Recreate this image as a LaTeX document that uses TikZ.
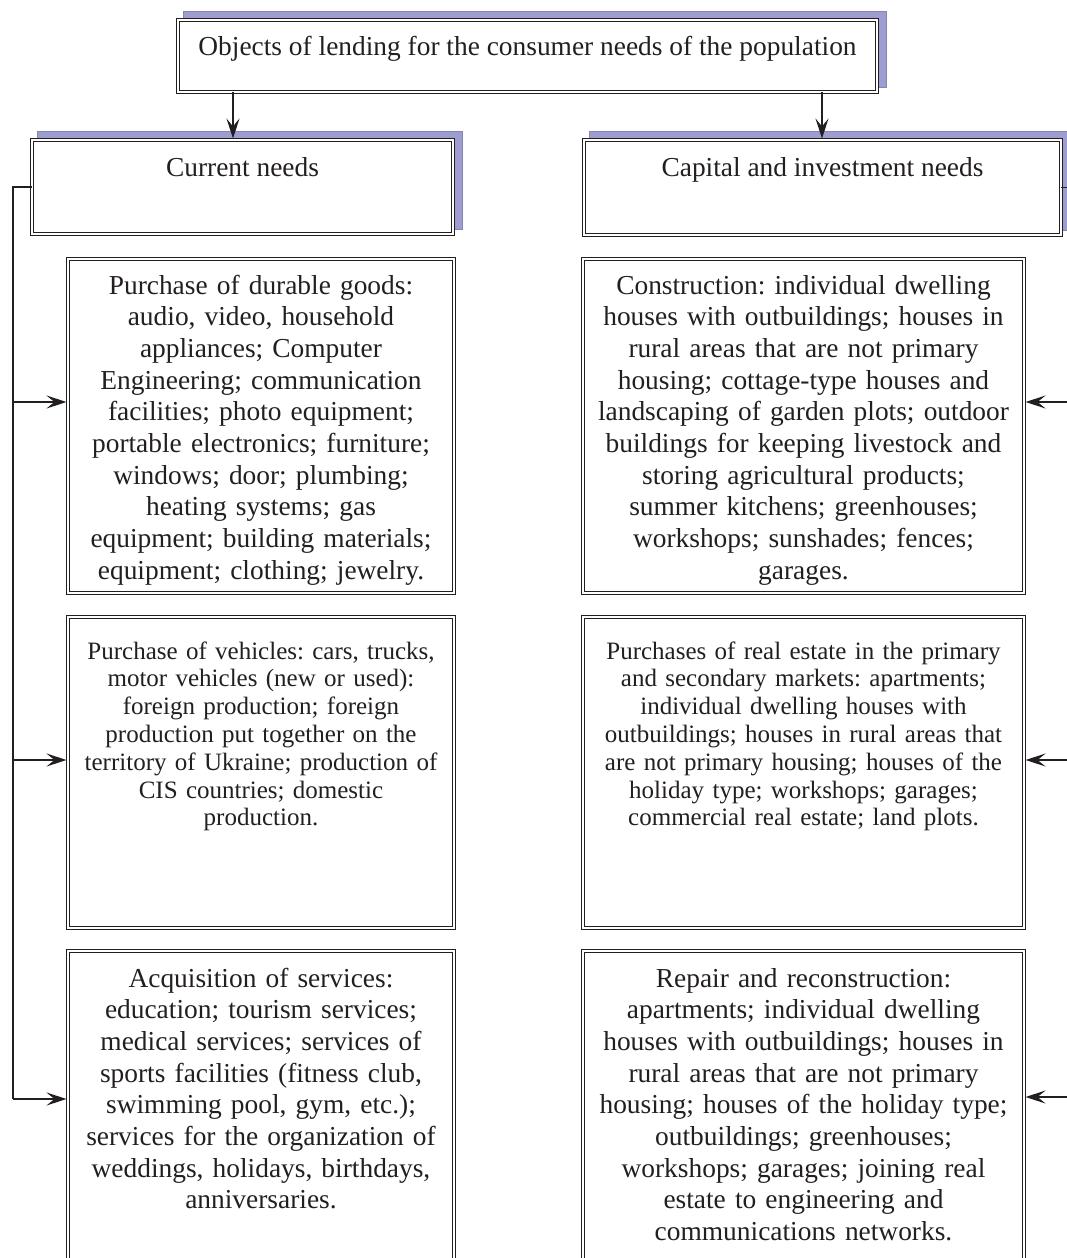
\documentclass[tikz,border=0pt]{standalone}
\usepackage{fontspec}
\setmainfont{Liberation Serif}
\frenchspacing
\usetikzlibrary{arrows.meta,calc}
\definecolor{shadowblue}{RGB}{157,157,207}
\definecolor{ink}{RGB}{35,31,32}
\tikzset{
  dbox/.style={draw=ink, fill=white, double=white, line width=1.2pt, double distance=1.8pt,
    inner sep=0pt, outer sep=0pt, rectangle},
  shadowbox/.style={fill=shadowblue, draw=shadowblue!85!black, line width=0.6pt},
  txtline/.style={font=\fontsize{27.4}{31.7}\selectfont, text=ink, inner sep=0pt, anchor=base},
  txtbig/.style={font=\fontsize{27.4}{31.7}\selectfont, text=ink, align=center,
    inner sep=0pt, text width=470pt, anchor=base},
  txtsmall/.style={font=\fontsize{25}{27.8}\selectfont, text=ink, align=center,
    inner sep=0pt, text width=470pt, anchor=base},
  conn/.style={draw=ink, line width=1.8pt},
  arr/.style={conn, -{Stealth[length=20pt,width=13pt,inset=8pt]}, shorten >=1.5pt},
}
\begin{document}
\begin{tikzpicture}[x=1pt,y=-1pt]
\path[use as bounding box] (0,0) rectangle (1067,1258);
\clip (0,0) rectangle (1067,1258);

% shadows
\path[shadowbox] (183,11) rectangle (886,87);
\path[shadowbox] (37,131) rectangle (462,229);
\path[shadowbox] (589,131) rectangle (1074,230);

% boxes
\node[dbox, minimum width=699pt, minimum height=72pt] (top) at (527.5,56) {};
\node[dbox, minimum width=421pt, minimum height=94pt] (cur) at (242.5,187) {};
\node[dbox, minimum width=477pt, minimum height=95pt] (cap) at (822.5,187.5) {};

\node[dbox, minimum width=386pt, minimum height=334pt] (lb1) at (261,426) {};
\node[dbox, minimum width=386pt, minimum height=311pt] (lb2) at (261,772.5) {};
\node[dbox, minimum width=386pt, minimum height=369pt] (lb3) at (261,1135.5) {};
\node[dbox, minimum width=441pt, minimum height=334pt] (rb1) at (803.5,426) {};
\node[dbox, minimum width=441pt, minimum height=311pt] (rb2) at (803.5,772.5) {};
\node[dbox, minimum width=441pt, minimum height=369pt] (rb3) at (803.5,1135.5) {};

% texts
\node[txtline] (ttop) at (527.5,55) {Objects of lending for the consumer needs of the population};
\node[txtline] (tcur) at (242.5,176) {Current needs};
\node[txtline] (tcap) at (822.5,176) {Capital and investment needs};

\node[txtbig] (tl1) at (261,294) {Purchase of durable goods:\\
audio, video, household\\
appliances; Computer\\
Engineering; communication\\
facilities; photo equipment;\\
portable electronics; furniture;\\
windows; door; plumbing;\\
heating systems; gas\\
equipment; building materials;\\
equipment; clothing; jewelry.};

\node[txtsmall] (tl2) at (261,659) {Purchase of vehicles: cars, trucks,\\
motor vehicles (new or used):\\
foreign production; foreign\\
production put together on the\\
territory of Ukraine; production of\\
CIS countries; domestic\\
production.};

\node[txtbig] (tl3) at (261,987) {Acquisition of services:\\
education; tourism services;\\
medical services; services of\\
sports facilities (fitness club,\\
swimming pool, gym, etc.);\\
services for the organization of\\
weddings, holidays, birthdays,\\
anniversaries.};

\node[txtbig] (tr1) at (803.5,294) {Construction: individual dwelling\\
houses with outbuildings; houses in\\
rural areas that are not primary\\
housing; cottage-type houses and\\
landscaping of garden plots; outdoor\\
buildings for keeping livestock and\\
storing agricultural products;\\
summer kitchens; greenhouses;\\
workshops; sunshades; fences;\\
garages.};

\node[txtsmall] (tr2) at (803.5,659) {Purchases of real estate in the primary\\
and secondary markets: apartments;\\
individual dwelling houses with\\
outbuildings; houses in rural areas that\\
are not primary housing; houses of the\\
holiday type; workshops; garages;\\
commercial real estate; land plots.};

\node[txtbig] (tr3) at (803.5,987) {Repair and reconstruction:\\
apartments; individual dwelling\\
houses with outbuildings; houses in\\
rural areas that are not primary\\
housing; houses of the holiday type;\\
outbuildings; greenhouses;\\
workshops; garages; joining real\\
estate to engineering and\\
communications networks.};

% connectors from top box
\coordinate (a1) at (233,0);
\coordinate (a2) at (822,0);
\draw[arr] (top.south -| a1) -- (cur.north -| a1);
\draw[arr] (top.south -| a2) -- (cap.north -| a2);

% left bus
\coordinate (L0) at (13,187);
\coordinate (L1) at (13,402);
\coordinate (L2) at (13,760);
\coordinate (L3) at (13,1099);
\draw[conn] (cur.west) -- (L0) -- (L3);
\draw[arr] (L1) -- (L1 -| lb1.west);
\draw[arr] (L2) -- (L2 -| lb2.west);
\draw[arr] (L3) -- (L3 -| lb3.west);

% right bus
\coordinate (R0) at (1078,187.5);
\coordinate (R1) at (1078,402);
\coordinate (R2) at (1078,760);
\coordinate (R3) at (1078,1097);
\draw[conn] (cap.east) -- (R0) -- (R3);
\draw[arr] (R1) -- (R1 -| rb1.east);
\draw[arr] (R2) -- (R2 -| rb2.east);
\draw[arr] (R3) -- (R3 -| rb3.east);
\end{tikzpicture}
\end{document}
